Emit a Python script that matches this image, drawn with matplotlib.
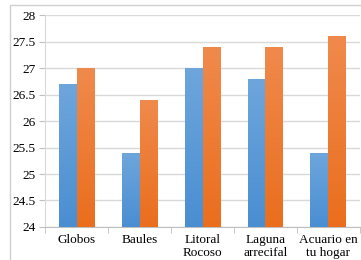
import matplotlib.pyplot as plt
import matplotlib.patches as patches
from matplotlib.colors import LinearSegmentedColormap
import numpy as np

categories = ['Globos', 'Baules', 'Litoral\nRocoso', 'Laguna\narrecifal', 'Acuario en\ntu hogar']
serie1 = [26.7, 25.4, 27.0, 26.8, 25.4]
serie2 = [27.0, 26.4, 27.4, 27.4, 27.6]
yticks = [24, 24.5, 25, 25.5, 26, 26.5, 27, 27.5, 28]
yticklabels = ['24', '24.5', '25', '25.5', '26', '26.5', '27', '27.5', '28']

plt.rcParams['font.family'] = ['Liberation Serif', 'DejaVu Serif']

fig = plt.figure(figsize=(3.61, 2.60), dpi=100)
ax = fig.add_axes([0.125, 0.127, 0.872, 0.815])

# outer frame of the chart (cropped at right and bottom)
frame = patches.Rectangle((10 / 361, -0.1), 2.0, 1.1 - 5 / 260, transform=fig.transFigure,
                          fill=False, edgecolor='#d0d0d0', linewidth=1.0, clip_on=False)
fig.patches.append(frame)

blue = LinearSegmentedColormap.from_list('b', ['#4a8ed2', '#6ea6dc'])
orange = LinearSegmentedColormap.from_list('o', ['#ea6e1e', '#f08a4c'])
grad = np.linspace(0, 1, 100).reshape(-1, 1)

x = np.arange(len(categories))
w = 0.285


def gradient_bars(xs, vals, cmap):
    bars = ax.bar(xs, np.array(vals) - 24, w, bottom=24, color='none', zorder=3)
    for b in bars:
        x0, y0 = b.get_x(), b.get_y()
        im = ax.imshow(grad, cmap=cmap, origin='lower', aspect='auto',
                       extent=[x0, x0 + b.get_width(), y0, y0 + b.get_height()], zorder=3)
        im.set_clip_path(b)


gradient_bars(x - w / 2, serie1, blue)
gradient_bars(x + w / 2, serie2, orange)

ax.set_xlim(-0.5, len(categories) - 0.5)
ax.set_ylim(24, 28)
ax.set_yticks(yticks)
ax.set_yticklabels(yticklabels, fontsize=9.5)
ax.set_xticks(x)
ax.set_xticklabels(categories, fontsize=9.5, linespacing=1.15)
ax.set_xticks(np.arange(len(categories) + 1) - 0.5, minor=True)
ax.tick_params(axis='x', which='major', length=0, pad=5)
ax.tick_params(axis='x', which='minor', length=4, color='#bfbfbf')
ax.tick_params(axis='y', length=4, color='#bfbfbf', pad=3)

ax.yaxis.grid(True, color='#d9d9d9', linewidth=1.0, zorder=0)
ax.set_axisbelow(True)
for s in ['top', 'right']:
    ax.spines[s].set_visible(False)
ax.spines['left'].set_color('#d9d9d9')
ax.spines['bottom'].set_color('#bfbfbf')

fig.savefig('out.png', dpi=100)
